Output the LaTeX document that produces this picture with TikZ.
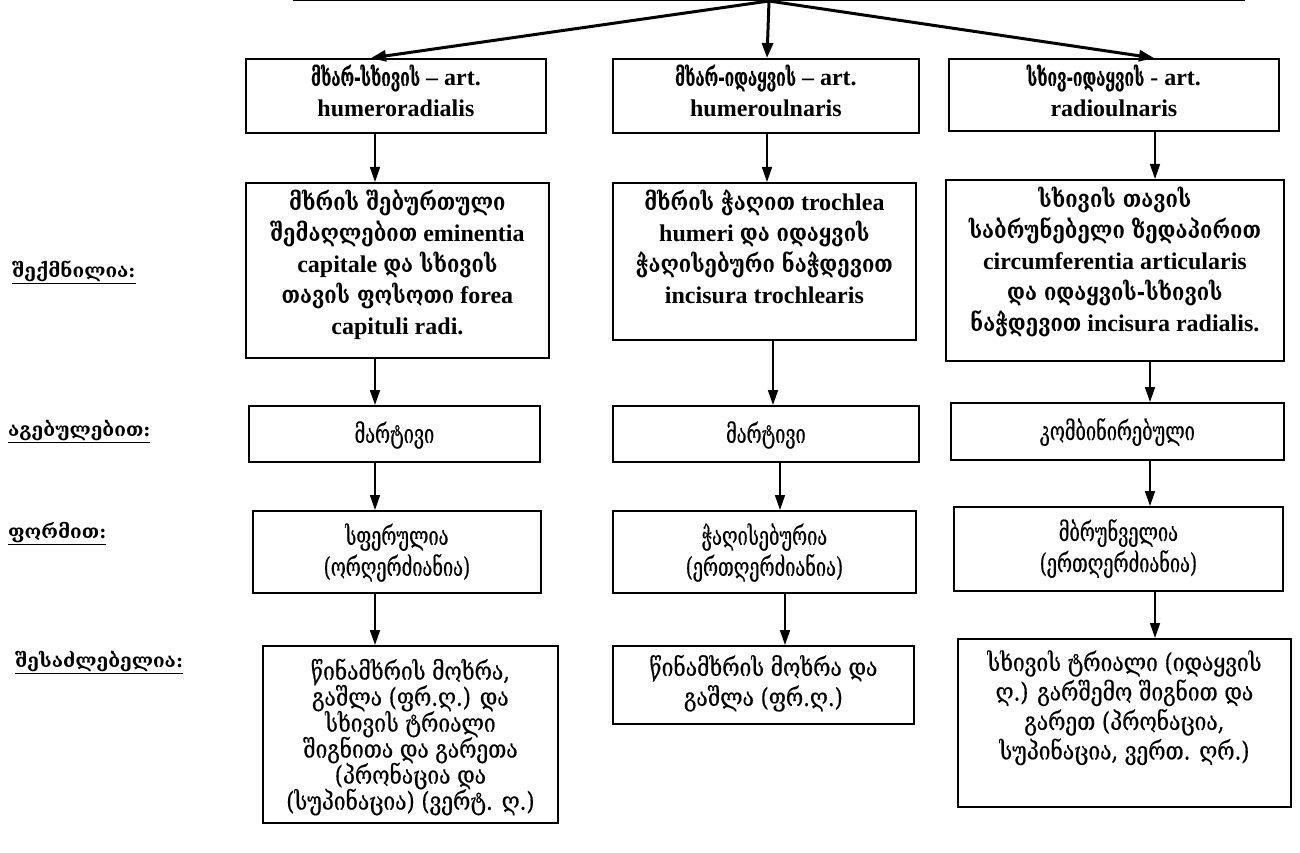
\documentclass[tikz,border=0pt]{standalone}
\usepackage{fontspec}
\setmainfont{Liberation Serif}
\newfontfamily\geob[FakeStretch=0.84]{DejaVu Serif}
\newfontfamily\geol{DejaVu Serif}
\newfontfamily\geot[FakeStretch=0.62, FakeBold=0.4]{DejaVu Serif}
\newfontfamily\geon[FakeStretch=0.7, FakeBold=0.5]{DejaVu Serif}
\newfontfamily\geow[FakeStretch=0.84, FakeBold=0.5]{DejaVu Serif}
\usetikzlibrary{arrows.meta}
% boxed text: width, height, first baseline from top, lines
\newcommand\cell[4]{\parbox[c][#2][t]{#1}{\lineskiplimit=-\maxdimen\vspace*{\dimexpr#3-\ht\strutbox\relax}\centering\strut#4\par}}
\newcommand\kb[1]{{\geob\bfseries #1}}
\newcommand\kt[1]{{\geot\fontsize{25}{31}\selectfont #1}}
\tikzset{
  box/.style={draw, line width=1.8pt, inner sep=0pt, anchor=north west},
  arr/.style={line width=1.6pt, -{Triangle[length=15pt,width=10pt]}},
  arrT/.style={line width=3pt, -{Triangle[length=15pt,width=11pt]}},
  lbl/.style={anchor=west, inner sep=0pt, font=\geol\bfseries\fontsize{19}{22}\selectfont},
  latb/.style={font=\bfseries\fontsize{24}{31}\selectfont},
  geo/.style={font=\geon\fontsize{26}{31}\selectfont},
  geow/.style={font=\geow\fontsize{25}{26}\selectfont},
}
\begin{document}
\begin{tikzpicture}[x=1pt,y=-1pt]
\useasboundingbox (0,0) rectangle (1300,853);

% partly visible parent box
\node[draw, line width=3pt, inner sep=0pt, minimum width=949pt, minimum height=60pt, anchor=south west] (root) at (293,1) {};

% column guides for the connectors
\coordinate (t1) at (371,0);
\coordinate (t2) at (767,0);
\coordinate (t3) at (1154,0);
\coordinate (x1) at (375,0);
\coordinate (x2a) at (767,0);
\coordinate (x2b) at (773,0);
\coordinate (x2c) at (780,0);
\coordinate (x2d) at (785,0);
\coordinate (x3a) at (1155,0);
\coordinate (x3b) at (1150,0);
\coordinate (x3c) at (1150,0);
\coordinate (x3d) at (1155,0);

% row 1: joints
\node[box, latb] (r1c1) at (245,58) {\cell{300pt}{74pt}{27pt}{\kt{მხარ-სხივის} – art.\\humeroradialis}};
\node[box, latb] (r1c2) at (612,58) {\cell{306pt}{74pt}{27pt}{\kt{მხარ-იდაყვის} – art.\\humeroulnaris}};
\node[box, latb] (r1c3) at (948,58) {\cell{330pt}{72pt}{27pt}{\kt{სხივ-იდაყვის} - art.\\radioulnaris}};

% row 2: articulating surfaces
\node[box, latb] (r2c1) at (245,182) {\cell{303pt}{175pt}{28pt}{\kb{მხრის შებურთული}\\\kb{შემაღლებით} eminentia\\capitale \kb{და სხივის}\\\kb{თავის ფოსოთი} forea\\capituli radi.}};
\node[box, latb] (r2c2) at (612,182) {\cell{303pt}{157pt}{28pt}{\kb{მხრის ჭაღით} trochlea\\humeri \kb{და იდაყვის}\\\kb{ჭაღისებური ნაჭდევით}\\incisura trochlearis}};
\node[box, latb] (r2c3) at (945,179) {\cell{338pt}{181pt}{28pt}{\kb{სხივის თავის}\\\kb{საბრუნებელი ზედაპირით}\\circumferentia articularis\\\kb{და იდაყვის-სხივის}\\\kb{ნაჭდევით} incisura radialis.}};

% row 3: structure
\node[box, geo] (r3c1) at (248,405) {\cell{291pt}{56pt}{37pt}{მარტივი}};
\node[box, geo] (r3c2) at (612,405) {\cell{306pt}{56pt}{37pt}{მარტივი}};
\node[box, geo] (r3c3) at (950,402) {\cell{333pt}{57pt}{37pt}{კომბინირებული}};

% row 4: shape
\node[box, geo] (r4c1) at (252,510) {\cell{288pt}{82pt}{34pt}{სფერულია\\(ორღერძიანია)}};
\node[box, geo] (r4c2) at (612,510) {\cell{303pt}{82pt}{34pt}{ჭაღისებურია\\(ერთღერძიანია)}};
\node[box, geo] (r4c3) at (953,506) {\cell{329pt}{84pt}{34pt}{მბრუნველია\\(ერთღერძიანია)}};

% row 5: movements
\node[box, geow] (r5c1) at (262,645) {\cell{295pt}{177pt}{31pt}{წინამხრის მოხრა,\\გაშლა (ფრ.ღ.) და\\სხივის ტრიალი\\შიგნითა და გარეთა\\(პრონაცია და\\(სუპინაცია) (ვერტ. ღ.)}};
\node[box, geow, font=\geow\fontsize{25}{30}\selectfont] (r5c2) at (612,645) {\cell{301pt}{78pt}{30pt}{წინამხრის მოხრა და\\გაშლა (ფრ.ღ.)}};
\node[box, geow, font=\geow\fontsize{25}{29.5}\selectfont] (r5c3) at (957,638) {\cell{333pt}{168pt}{32pt}{სხივის ტრიალი (იდაყვის\\ღ.) გარშემო შიგნით და\\გარეთ (პრონაცია,\\სუპინაცია, ვერთ. ღრ.)}};

% row captions
\node[lbl] (l1) at (12,272) {\underline{შექმნილია:}};
\node[lbl] (l2) at (8,432) {\underline{აგებულებით:}};
\node[lbl] (l3) at (8,534) {\underline{ფორმით:}};
\node[lbl] (l4) at (15,663) {\underline{შესაძლებელია:}};

% connectors
\draw[arrT] (root.south) -- (r1c1.north -| t1);
\draw[arrT] (root.south) -- (r1c2.north -| t2);
\draw[arrT] (root.south) -- (r1c3.north -| t3);

\draw[arr] (r1c1.south -| x1) -- (r2c1.north -| x1);
\draw[arr] (r2c1.south -| x1) -- (r3c1.north -| x1);
\draw[arr] (r3c1.south -| x1) -- (r4c1.north -| x1);
\draw[arr] (r4c1.south -| x1) -- (r5c1.north -| x1);

\draw[arr] (r1c2.south -| x2a) -- (r2c2.north -| x2a);
\draw[arr] (r2c2.south -| x2b) -- (r3c2.north -| x2b);
\draw[arr] (r3c2.south -| x2c) -- (r4c2.north -| x2c);
\draw[arr] (r4c2.south -| x2d) -- (r5c2.north -| x2d);

\draw[arr] (r1c3.south -| x3a) -- (r2c3.north -| x3a);
\draw[arr] (r2c3.south -| x3b) -- (r3c3.north -| x3b);
\draw[arr] (r3c3.south -| x3c) -- (r4c3.north -| x3c);
\draw[arr] (r4c3.south -| x3d) -- (r5c3.north -| x3d);
\end{tikzpicture}
\end{document}
